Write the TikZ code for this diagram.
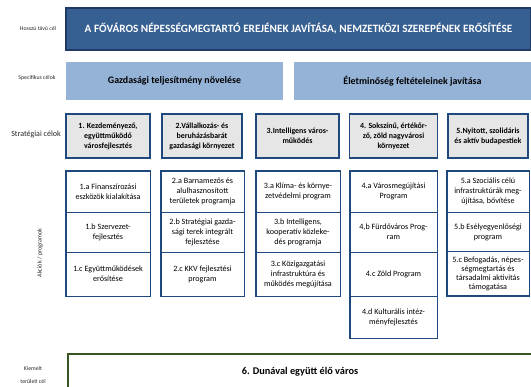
\documentclass[tikz,border=0pt]{standalone}
\usepackage{fontspec}
\setmainfont{Carlito}
\definecolor{tblue}{HTML}{376092}
\definecolor{tborder}{HTML}{1F3864}
\definecolor{lblue}{HTML}{95B3D7}
\definecolor{sgray}{HTML}{E6E6E6}
\definecolor{sborder}{HTML}{1F497D}
\definecolor{gborder}{HTML}{375623}
\begin{document}
\begin{tikzpicture}[x=1pt,y=-1pt,
  lbl/.style={font=\fontsize{5.8}{7}\selectfont, text=black!85, inner sep=0, align=center},
  titlebox/.style={draw=tborder, line width=1.2pt, fill=tblue, text=white, font=\bfseries\fontsize{11.2}{13}\selectfont, inner sep=0},
  specbox/.style={fill=lblue, font=\bfseries\fontsize{9.9}{12}\selectfont, inner sep=0},
  stratbox/.style={draw=sborder, line width=1.8pt, fill=sgray, align=center, font=\bfseries\fontsize{7.9}{10}\selectfont, inner sep=0},
  progbox/.style={draw=sborder, line width=0.8pt, fill=white, align=center, font=\fontsize{8.1}{10}\selectfont, inner sep=0},
  outline/.style={draw=sborder, line width=1.7pt},
  greenbox/.style={draw=gborder, line width=1.8pt, fill=white, inner sep=0}
]
\useasboundingbox (0,0) rectangle (531,387);
\clip (0,0) rectangle (531,387);

% left labels
\node[lbl] (l1) at (38,29) {Hosszú távú cél};
\node[lbl] (l2) at (37,78) {Specifikus célok};
\node[lbl, font=\fontsize{8}{9}\selectfont] (l3) at (36,134) {Stratégiai célok};
\node[lbl, rotate=90, font=\fontsize{6.2}{7}\selectfont] (l4) at (40,253) {Akciók / programok};
\node[lbl, font=\fontsize{5.8}{12.5}\selectfont] (l5) at (33,375) {Kiemelt\\területi cél};

% long-term goal
\node[titlebox, minimum width=465, minimum height=42] (top) at (298.5,29)
  {A FŐVÁROS NÉPESSÉGMEGTARTÓ EREJÉNEK JAVÍTÁSA, NEMZETKÖZI SZEREPÉNEK ERŐSÍTÉSE};

% specific goals
\node[specbox, minimum width=217, minimum height=38] (s1) at (174.5,81) {Gazdasági teljesítmény növelése};
\node[specbox, minimum width=237, minimum height=38] (s2) at (412.5,81) {Életminőség feltételeinek javítása};

% strategic goals
\node[stratbox, minimum width=84, minimum height=44] (g1) at (108,136) {1. Kezdeményező,\\együttműködő\\városfejlesztés};
\node[stratbox, minimum width=80, minimum height=44] (g2) at (202,136) {2.Vállalkozás- és\\beruházásbarát\\gazdasági környezet};
\node[stratbox, minimum width=83, minimum height=44] (g3) at (297.5,136) {3.Intelligens város-\\működés};
\node[stratbox, minimum width=88, minimum height=44] (g4) at (393.5,136) {4. Sokszínű, értékőr-\\ző, zöld nagyvárosi\\környezet};
\node[stratbox, minimum width=80, minimum height=44] (g5) at (488,136) {5.Nyitott, szolidáris\\és aktív budapestiek};

% programmes column 1
\node[progbox, minimum width=84, minimum height=41] (p1a) at (108,191.5) {1.a Finanszírozási\\eszközök kialakítása};
\node[progbox, minimum width=84, minimum height=40] (p1b) at (108,232) {1.b Szervezet-\\fejlesztés};
\node[progbox, minimum width=84, minimum height=44] (p1c) at (108,274) {1.c Együttműködések\\erősítése};
% column 2
\node[progbox, minimum width=83, minimum height=41] (p2a) at (202.5,191.5) {2.a Barnamezős és\\alulhasznosított\\területek programja};
\node[progbox, minimum width=83, minimum height=40] (p2b) at (202.5,232) {2.b Stratégiai gazda-\\sági terek integrált\\fejlesztése};
\node[progbox, minimum width=83, minimum height=44] (p2c) at (202.5,274) {2.c KKV fejlesztési\\program};
% column 3
\node[progbox, minimum width=84, minimum height=41] (p3a) at (298,191.5) {3.a Klíma- és környe-\\zetvédelmi program};
\node[progbox, minimum width=84, minimum height=40] (p3b) at (298,232) {3.b Intelligens,\\kooperatív közleke-\\dés programja};
\node[progbox, minimum width=84, minimum height=44] (p3c) at (298,274) {3.c Közigazgatási\\infrastruktúra és\\működés megújítása};
% column 4
\node[progbox, minimum width=87, minimum height=41] (p4a) at (393.5,191.5) {4.a Városmegújítási\\Program};
\node[progbox, minimum width=87, minimum height=40] (p4b) at (393.5,232) {4,b Fürdőváros Prog-\\ram};
\node[progbox, minimum width=87, minimum height=44] (p4c) at (393.5,274) {4.c Zöld Program};
\node[progbox, minimum width=87, minimum height=42] (p4d) at (393.5,317) {4.d Kulturális intéz-\\ményfejlesztés};
% column 5
\node[progbox, minimum width=82, minimum height=41] (p5a) at (488,191.5) {5.a Szociális célú\\infrastruktúrák meg-\\újítása, bővítése};
\node[progbox, minimum width=82, minimum height=40] (p5b) at (488,232) {5.b Esélyegyenlőségi\\program};
\node[progbox, minimum width=82, minimum height=44, font=\fontsize{8.1}{9}\selectfont] (p5c) at (488,273.5) {5.c Befogadás, népes-\\ségmegtartás és\\társadalmi aktivitás\\támogatása};

% outer frames of programme columns
\draw[outline] (p1a.north west) rectangle (p1c.south east);
\draw[outline] (p2a.north west) rectangle (p2c.south east);
\draw[outline] (p3a.north west) rectangle (p3c.south east);
\draw[outline] (p4a.north west) rectangle (p4d.south east);
\draw[outline] (p5a.north west) rectangle (p5c.south east);

% territorial goal
\node[greenbox, minimum width=464, minimum height=44, anchor=north west] (terr) at (67,353) {};
\node[font=\bfseries\fontsize{10.3}{12}\selectfont, inner sep=0] (terrtxt) at (300,372) {6. Dunával együtt élő város};
\end{tikzpicture}
\end{document}
